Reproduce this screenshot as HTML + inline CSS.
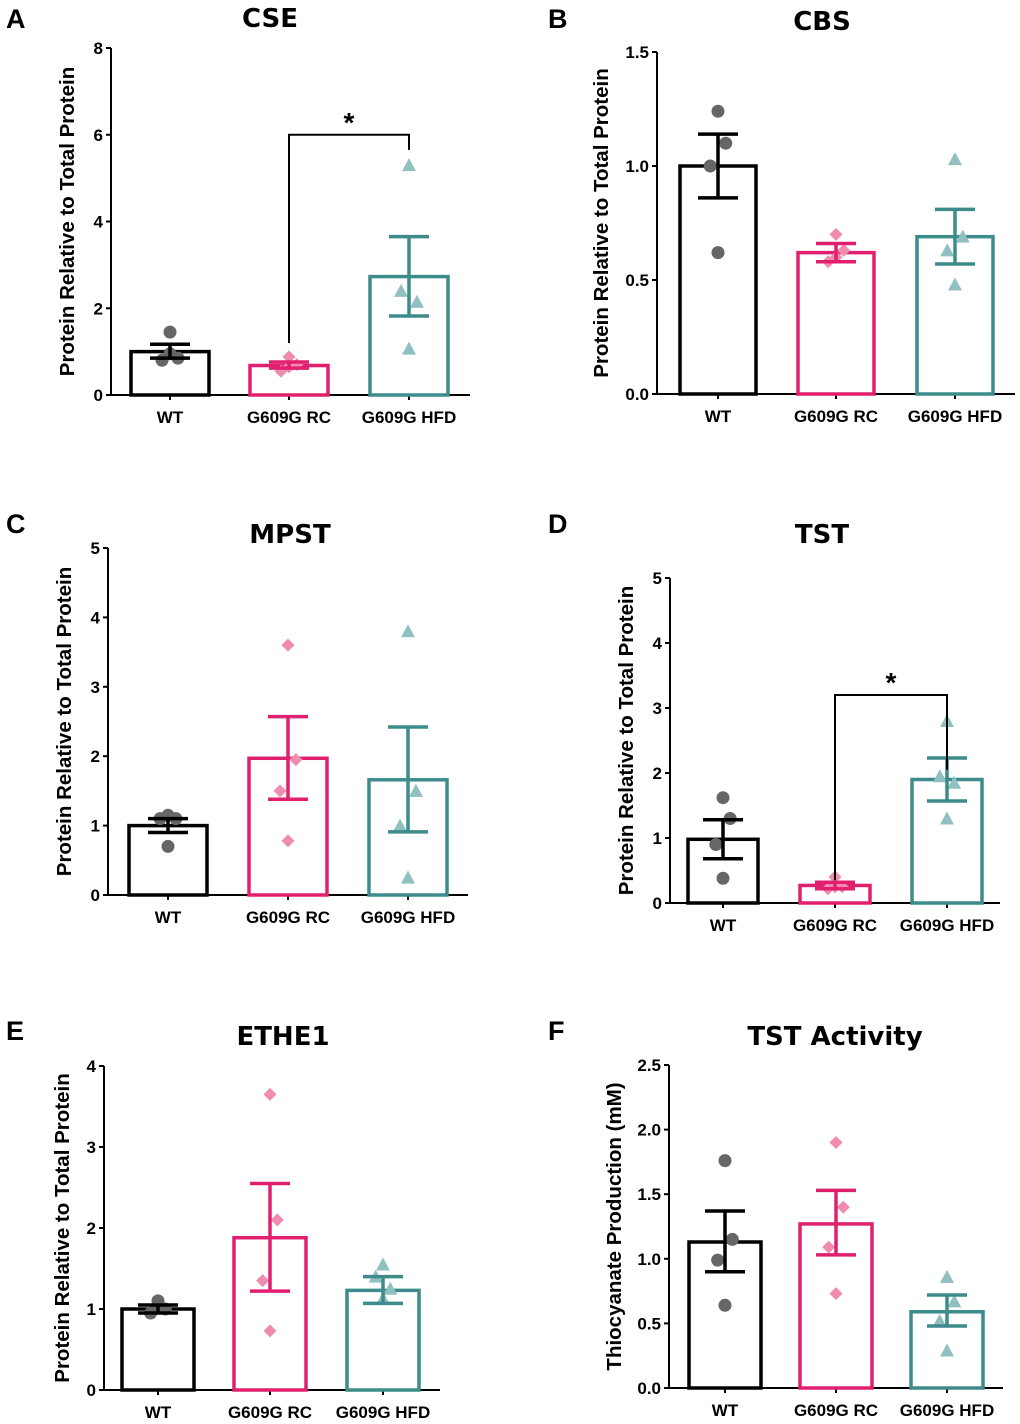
<!DOCTYPE html>
<html><head><meta charset="utf-8"><style>
body{margin:0;background:#fff}
svg{display:block}
text{font-family:"Liberation Sans",Arial,sans-serif;font-weight:bold;fill:#000}
</style></head><body>
<svg id="fig" width="1020" height="1424" viewBox="0 0 1020 1424" xmlns="http://www.w3.org/2000/svg"></svg>
<script>
const categories = ["WT","G609G RC","G609G HFD"];
// Panel A CSE
const cseMean = [1.0,0.68,2.73];
const cseLow = [0.85,0.62,1.82];
const cseHigh = [1.17,0.76,3.65];
const csePts = [[0.8,1.45,0.85,0.95],[0.55,0.88,0.7,0.65],[2.4,5.3,2.15,1.07]];
const cseTicks = [0,2,4,6,8];
// Panel B CBS
const cbsMean = [1.0,0.62,0.69];
const cbsLow = [0.86,0.58,0.57];
const cbsHigh = [1.14,0.66,0.81];
const cbsPts = [[1.0,1.24,1.1,0.62],[0.58,0.7,0.63,0.6],[0.63,1.03,0.69,0.48]];
const cbsTicks = [0,0.5,1.0,1.5];
// Panel C MPST
const mpstMean = [1.0,1.97,1.66];
const mpstLow = [0.9,1.38,0.91];
const mpstHigh = [1.1,2.57,2.42];
const mpstPts = [[1.1,1.15,1.1,0.7],[1.5,3.6,1.95,0.78],[1.0,3.8,1.5,0.25]];
const mpstTicks = [0,1,2,3,4,5];
// Panel D TST
const tstMean = [0.98,0.27,1.9];
const tstLow = [0.68,0.22,1.57];
const tstHigh = [1.28,0.32,2.23];
const tstPts = [[0.9,1.62,1.3,0.38],[0.22,0.4,0.25,0.25],[1.95,2.8,1.85,1.3]];
const tstTicks = [0,1,2,3,4,5];
// Panel E ETHE1
const etheMean = [1.0,1.88,1.23];
const etheLow = [0.95,1.22,1.07];
const etheHigh = [1.05,2.55,1.4];
const ethePts = [[0.95,1.1,1.0,1.05],[1.35,3.65,2.1,0.73],[1.4,1.55,1.25,1.13]];
const etheTicks = [0,1,2,3,4];
// Panel F TST Activity
const actMean = [1.13,1.27,0.59];
const actLow = [0.9,1.03,0.48];
const actHigh = [1.37,1.53,0.72];
const actPts = [[0.99,1.76,1.15,0.64],[1.09,1.9,1.4,0.73],[0.52,0.86,0.67,0.29]];
const actTicks = [0,0.5,1.0,1.5,2.0,2.5];

const NS="http://www.w3.org/2000/svg";
const svg=document.getElementById('fig');
const barCol=["#000","#e0206e","#3d8b8b"];
const ptCol=["#666","#f08cb0","#90c0c0"];
const jit=[-0.12,0,0.12,0];
function mk(tag,attrs,parent){const e=document.createElementNS(NS,tag);for(const k in attrs)e.setAttribute(k,attrs[k]);(parent||svg).appendChild(e);return e;}

function panel(cfg){
  const g=mk('g',{});
  
  
  const ymax=cfg.ticks[cfg.ticks.length-1];
  const y=v=>cfg.y0-(v/ymax)*(cfg.y0-cfg.ytop);
  const x=i=>cfg.cx[i];
  const L=mk('text',{x:cfg.letter[0],y:cfg.letter[1],style:'font-size:27px'},g);L.textContent=cfg.lt;
  
  
  const T=mk('text',{x:cfg.title[0],y:cfg.title[1],'text-anchor':'middle',style:'font-family:"DejaVu Sans",sans-serif;font-weight:bold;font-size:26px'},g);T.textContent=cfg.tt;
  
  
  const ax=mk('path',{d:`M${cfg.ax},${cfg.ytop} V${cfg.y0} H${cfg.xend}`,stroke:'#000','stroke-width':2,fill:'none'},g);
  
  
  cfg.ticks.forEach(t=>{
    mk('line',{x1:cfg.ax-5,x2:cfg.ax,y1:y(t),y2:y(t),stroke:'#000','stroke-width':2},g);
    const tl=mk('text',{x:cfg.ax-8,y:y(t)+6,'text-anchor':'end',style:'font-size:17px'},g);
    tl.textContent=cfg.fmt?t.toFixed(1):String(t);
    
    
  });
  const yt=mk('text',{x:0,y:0,'text-anchor':'middle',style:'font-size:20.5px',transform:`translate(${cfg.ytx},${(cfg.ytop+cfg.y0)/2}) rotate(-90)`},g);
  yt.textContent=cfg.ylab;
  
  
  for(let i=0;i<3;i++){
    mk('line',{x1:x(i),x2:x(i),y1:cfg.y0,y2:cfg.y0+5,stroke:'#000','stroke-width':2},g);
    const cl=mk('text',{x:x(i),y:cfg.y0+28,'text-anchor':'middle',style:'font-size:17px'},g);
    cl.textContent=categories[i];
    
    
    const bw=cfg.bw;
    const b=mk('rect',{x:x(i)-bw/2,y:y(cfg.mean[i]),width:bw,height:cfg.y0-y(cfg.mean[i]),fill:'none',stroke:barCol[i],'stroke-width':3.5},g);
    
    
    cfg.pts[i].forEach((v,k)=>{
      const px=x(i)+jit[k]*bw*0.85, py=y(v);
      let p;
      if(i===0)p=mk('circle',{cx:px,cy:py,r:6.5,fill:ptCol[0]},g);
      else if(i===1)p=mk('path',{d:`M${px},${py-6.5}L${px+6.5},${py}L${px},${py+6.5}L${px-6.5},${py}Z`,fill:ptCol[1]},g);
      else p=mk('path',{d:`M${px},${py-7}L${px+7},${py+6}L${px-7},${py+6}Z`,fill:ptCol[2]},g);
      
      
    });
    const e=mk('path',{d:`M${x(i)},${y(cfg.low[i])}V${y(cfg.high[i])}M${x(i)-20},${y(cfg.high[i])}h40M${x(i)-20},${y(cfg.low[i])}h40`,stroke:barCol[i],'stroke-width':3.5,fill:'none'},g);
    
    
  }
  if(cfg.sig){
    const s=cfg.sig;
    const br=mk('path',{d:`M${x(1)},${y(s[0])}V${y(s[2])}H${x(2)}V${y(s[1])}`,stroke:'#000','stroke-width':2,fill:'none'},g);
    
    
    const st=mk('text',{x:(x(1)+x(2))/2,y:y(s[2])-3,'text-anchor':'middle',style:'font-size:28px'},g);
    st.textContent='*';
    
    
  }
}
const YL="Protein Relative to Total Protein";
panel({name:'cse',lt:'A',tt:'CSE',letter:[6,28],title:[270,27],ax:111,ytop:48,y0:395,xend:470,cx:[170,289,409],bw:78,ytx:74,ylab:YL,ticks:cseTicks,mean:cseMean,low:cseLow,high:cseHigh,pts:csePts,sig:[1.2,5.65,6.0]});
panel({name:'cbs',lt:'B',tt:'CBS',letter:[548,28],title:[822,30],ax:657,ytop:52,y0:394,xend:1015,cx:[718,836,955],bw:76,ytx:608,ylab:YL,ticks:cbsTicks,fmt:true,mean:cbsMean,low:cbsLow,high:cbsHigh,pts:cbsPts});
panel({name:'mpst',lt:'C',tt:'MPST',letter:[6,533],title:[290,543],ax:108,ytop:548,y0:895,xend:468,cx:[168,288,408],bw:78,ytx:71,ylab:YL,ticks:mpstTicks,mean:mpstMean,low:mpstLow,high:mpstHigh,pts:mpstPts});
panel({name:'tst',lt:'D',tt:'TST',letter:[548,533],title:[822,543],ax:670,ytop:578,y0:903,xend:1000,cx:[723,835,947],bw:70,ytx:633,ylab:YL,ticks:tstTicks,mean:tstMean,low:tstLow,high:tstHigh,pts:tstPts,sig:[0.35,2.05,3.2]});
panel({name:'ethe1',lt:'E',tt:'ETHE1',letter:[6,1040],title:[283,1045],ax:104,ytop:1066,y0:1390,xend:440,cx:[158,270,383],bw:72,ytx:69,ylab:YL,ticks:etheTicks,mean:etheMean,low:etheLow,high:etheHigh,pts:ethePts});
panel({name:'tst-activity',lt:'F',tt:'TST Activity',letter:[548,1040],title:[835,1045],ax:669,ytop:1065,y0:1388,xend:1003,cx:[725,836,947],bw:72,ytx:621,ylab:'Thiocyanate Production (mM)',ticks:actTicks,fmt:true,mean:actMean,low:actLow,high:actHigh,pts:actPts});
</script>
</body></html>
